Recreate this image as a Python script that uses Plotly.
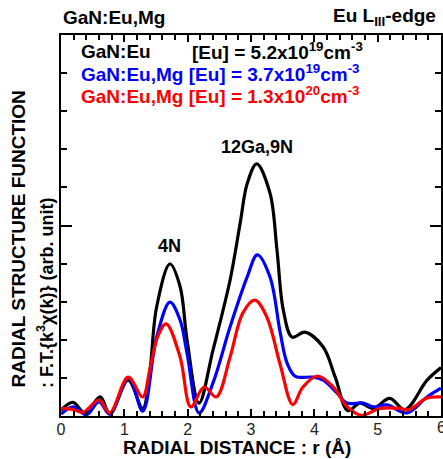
import plotly.graph_objects as go

# GaN:Eu  [Eu] = 5.2e19
r_black = [0.0, 0.19, 0.38, 0.62, 0.77, 1.06, 1.29, 1.40, 1.51, 1.72, 1.88, 1.99, 2.18, 2.40, 2.67, 2.83, 2.94, 3.09, 3.30, 3.41, 3.51, 3.65, 3.85, 4.14, 4.33, 4.53, 4.72, 4.93, 5.19, 5.43, 5.78, 6.0]
y_black = [0.15, 0.36, 0.08, 0.50, 0.05, 0.94, 0.20, 1.13, 2.86, 3.99, 3.40, 2.00, 0.34, 1.73, 3.57, 5.07, 6.10, 6.62, 5.85, 4.36, 2.78, 2.07, 2.20, 1.81, 1.02, 0.14, 0.34, 0.20, 0.46, 0.17, 0.94, 1.27]

# GaN:Eu,Mg  [Eu] = 3.7e19
r_blue = [0.0, 0.19, 0.40, 0.60, 0.77, 1.07, 1.29, 1.51, 1.72, 1.88, 1.99, 2.18, 2.40, 2.67, 2.94, 3.10, 3.30, 3.46, 3.57, 3.70, 3.98, 4.14, 4.36, 4.51, 4.77, 4.93, 5.15, 5.46, 5.78, 6.0]
y_blue = [0.05, 0.24, 0.03, 0.37, 0.05, 1.00, 0.13, 2.07, 2.99, 2.52, 1.65, 0.08, 0.87, 2.34, 3.65, 4.23, 3.65, 2.20, 1.39, 1.04, 1.02, 0.94, 0.60, 0.34, 0.34, 0.24, 0.29, 0.08, 0.50, 0.73]

# GaN:Eu,Mg  [Eu] = 1.3e20
r_red = [0.0, 0.19, 0.35, 0.60, 0.77, 1.06, 1.29, 1.40, 1.53, 1.66, 1.88, 2.05, 2.26, 2.45, 2.67, 2.87, 3.06, 3.25, 3.46, 3.66, 3.82, 4.05, 4.30, 4.51, 4.74, 5.04, 5.35, 5.48, 5.78, 6.0]
y_red = [0.20, 0.17, 0.10, 0.42, 0.08, 1.02, 0.50, 1.20, 2.10, 2.42, 1.55, 0.24, 0.76, 0.50, 1.55, 2.70, 3.04, 2.60, 1.35, 0.30, 0.76, 1.05, 0.76, 0.26, 0.02, 0.20, 0.20, 0.16, 0.47, 0.50]

x_tick_vals = [0, 1, 2, 3, 4, 5, 6]
x_tick_text = ["0", "1", "2", "3", "4", "5", "6"]

series = [
    ("GaN:Eu", r_black, y_black, "#000000"),
    ("GaN:Eu,Mg (3.7e19)", r_blue, y_blue, "#0000ff"),
    ("GaN:Eu,Mg (1.3e20)", r_red, y_red, "#ff0000"),
]

FONT = "Liberation Sans, Arial, sans-serif"

fig = go.Figure()
for name, xs, ys, col in series:
    fig.add_trace(go.Scatter(x=xs, y=ys, mode="lines", name=name,
                             line=dict(color=col, width=3.2, shape="spline", smoothing=1.0),
                             showlegend=False, hoverinfo="skip", cliponaxis=True))

fig.update_layout(
    width=443, height=459,
    margin=dict(l=61, r=2, t=35, b=43, autoexpand=False),
    paper_bgcolor="white", plot_bgcolor="white",
    font=dict(family=FONT, color="black"),
    xaxis=dict(range=[0, 6], tickvals=x_tick_vals[:-1], ticktext=x_tick_text[:-1],
               showline=True, linewidth=2, linecolor="black", automargin=False,
               mirror="ticks", ticks="inside", ticklen=7, tickwidth=1.5, tickcolor="black",
               showgrid=False, zeroline=False, ticklabelstandoff=-2,
               tickfont=dict(size=16, color="#222222", family=FONT),
               minor=dict(dtick=0.2, tick0=0, ticks="inside", ticklen=5, tickwidth=1.5, tickcolor="black", showgrid=False)),
    yaxis=dict(range=[0, 10], dtick=5, tick0=0, showline=True, linewidth=2, linecolor="black",
               mirror="ticks", ticks="inside", ticklen=11, tickwidth=1.5, tickcolor="black",
               showgrid=False, zeroline=False, showticklabels=False, automargin=False,
               minor=dict(dtick=1, ticks="inside", ticklen=6, tickwidth=1.5, tickcolor="black", showgrid=False)),
)

ann = []
def P(x, y, text, size=18, xa="left", ya="middle", color="black", angle=0):
    ann.append(dict(x=x, y=y, xref="paper", yref="paper",
                    text=text, showarrow=False, xanchor=xa, yanchor=ya, textangle=angle,
                    font=dict(size=size, color=color, family=FONT)))

L, T, R, B = 61, 35, 441, 416
def px(x): return (x - L) / (R - L)
def py(y): return (B - y) / (B - T)

P(px(61), py(17), "<b>GaN:Eu,Mg</b>", size=19)
P(px(438), py(17), "<b>Eu L<sub>III</sub>-edge</b>", size=19, xa="right")

P(px(79), py(51), "<b>GaN:Eu</b>", size=19)
P(px(190), py(51), "<b>[Eu] = 5.2x10<sup>19</sup>cm<sup>-3</sup></b>", size=19)
P(px(79), py(73), "<b>GaN:Eu,Mg [Eu] = 3.7x10<sup>19</sup>cm<sup>-3</sup></b>", size=19, color="#0000ff")
P(px(79), py(95), "<b>GaN:Eu,Mg [Eu] = 1.3x10<sup>20</sup>cm<sup>-3</sup></b>", size=19, color="#ff0000")

# last x tick label (sits on the right edge of the page)
ann.append(dict(x=x_tick_vals[-1], y=py(427), xref="x", yref="paper", text=x_tick_text[-1],
                showarrow=False, xanchor="center", yanchor="middle",
                font=dict(size=16, family=FONT, color="#222222")))

ann.append(dict(x=1.72, y=4.46, xref="x", yref="y", text="<b>4N</b>", showarrow=False,
                font=dict(size=18, family=FONT, color="black")))
ann.append(dict(x=3.09, y=7.06, xref="x", yref="y", text="<b>12Ga,9N</b>", showarrow=False,
                font=dict(size=18, family=FONT, color="black")))

P(px(237), py(447), "<b>RADIAL DISTANCE : r (Å)</b>", size=19, xa="center")
P(px(18), py(390), "<b>RADIAL STRUCTURE FUNCTION</b>", size=19, xa="center", ya="bottom", angle=-90)
P(px(45), py(390), "<b>: F.T.{k<sup>3</sup>χ(k)} (arb. unit)</b>", size=18, xa="center", ya="bottom", angle=-90)

fig.update_layout(annotations=ann)
fig.write_html("out.html", config={"displayModeBar": False},
               post_script="document.body.style.margin='0px';document.body.style.overflow='hidden';")
